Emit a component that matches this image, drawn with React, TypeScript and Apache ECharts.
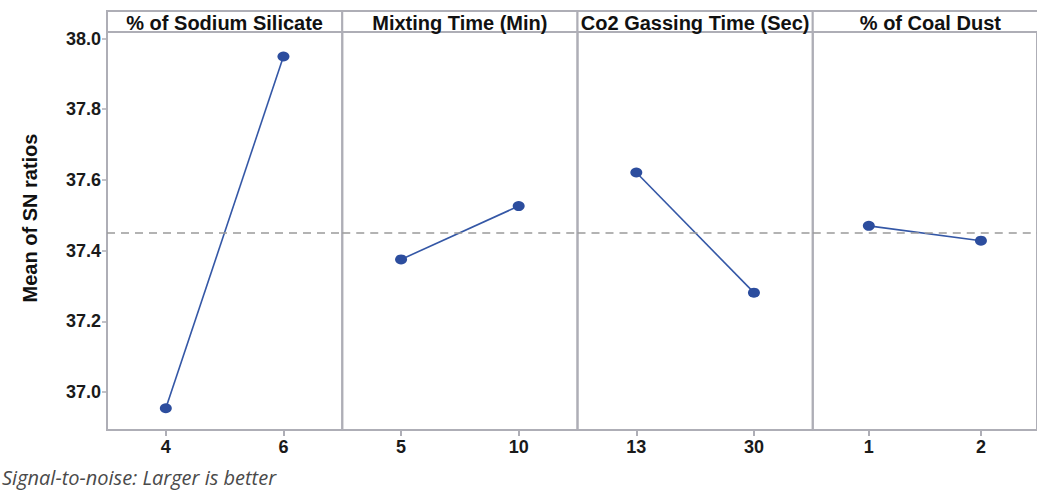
import React, { useEffect, useRef } from "react";
import * as echarts from "echarts";

const factors = ["% of Sodium Silicate", "Mixting Time (Min)", "Co2 Gassing Time (Sec)", "% of Coal Dust"];
const levelLabels = [["4", "6"], ["5", "10"], ["13", "30"], ["1", "2"]];
const snMeans = [[36.954, 37.949], [37.375, 37.526], [37.621, 37.281], [37.47, 37.428]];
const grandMean = 37.45;
const yTickValues = [37.0, 37.2, 37.4, 37.6, 37.8, 38.0];
const yAxisTitle = "Mean of SN ratios";
const footnote = "Signal-to-noise: Larger is better";

const W = 1037;
const H = 490;
const PLOT_LEFT = 107;
const PANEL_W = 235.25;
const HEADER_TOP = 11;
const PLOT_TOP = 32;
const PLOT_BOTTOM = 430;
const Y_MIN = 36.8925;
const Y_MAX = 38.0184;
const FRAME = "#aeaeb6";
const BLUE = "#3457a6";

export default function App() {
  const ref = useRef<HTMLDivElement>(null);
  useEffect(() => {
    if (!ref.current) return;
    const chart = echarts.init(ref.current, null, { renderer: "svg" });
    const grids = factors.map((_, i) => ({
      left: PLOT_LEFT + PANEL_W * i,
      top: PLOT_TOP,
      width: PANEL_W,
      height: PLOT_BOTTOM - PLOT_TOP,
      show: true,
      borderColor: FRAME,
      borderWidth: 2,
      backgroundColor: "transparent",
    }));
    const xAxes = factors.map((_, i) => ({
      type: "category",
      gridIndex: i,
      data: levelLabels[i],
      boundaryGap: true,
      axisLine: { show: true, lineStyle: { color: FRAME, width: 2 } },
      axisTick: { show: true, alignWithLabel: true, length: 6, lineStyle: { color: FRAME, width: 2 } },
      axisLabel: {
        margin: 8,
        color: "#1a1a1a",
        fontFamily: "Liberation Sans, Arial, sans-serif",
        fontWeight: "bold",
        fontSize: 18,
      },
      splitLine: { show: false },
    }));
    const yAxes = factors.map((_, i) => ({
      type: "value",
      gridIndex: i,
      min: Y_MIN,
      max: Y_MAX,
      show: i === 0,
      axisLine: { show: true, lineStyle: { color: FRAME, width: 2 } },
      axisTick: { show: true, length: 5, customValues: yTickValues, lineStyle: { color: FRAME, width: 1.5 } },
      axisLabel: {
        customValues: yTickValues,
        margin: 6,
        color: "#1a1a1a",
        fontFamily: "Liberation Sans, Arial, sans-serif",
        fontWeight: "bold",
        fontSize: 18,
        formatter: (v: number) => v.toFixed(1),
      },
      splitLine: { show: false },
    }));
    const series = factors.map((name, i) => ({
      type: "line",
      name,
      xAxisIndex: i,
      yAxisIndex: i,
      data: snMeans[i],
      symbol: "circle",
      symbolSize: [12, 10],
      lineStyle: { color: BLUE, width: 1.6 },
      itemStyle: { color: "#2c4d9e" },
      markLine: {
        silent: true,
        symbol: "none",
        label: { show: false },
        lineStyle: { color: "#9a9a9a", type: [8, 6], width: 1.5 },
        data: [{ yAxis: grandMean }],
      },
      z: 3,
    }));
    const headerGraphics: any[] = [];
    factors.forEach((name, i) => {
      const x = PLOT_LEFT + PANEL_W * i;
      headerGraphics.push({
        type: "rect",
        shape: { x, y: HEADER_TOP, width: PANEL_W, height: PLOT_TOP - HEADER_TOP },
        style: { fill: "#fff", stroke: FRAME, lineWidth: 2 },
        z: 1,
      });
      headerGraphics.push({
        type: "text",
        x: x + PANEL_W / 2,
        y: (HEADER_TOP + PLOT_TOP) / 2 + 1,
        style: {
          text: name,
          textAlign: "center",
          textVerticalAlign: "middle",
          fill: "#111",
          font: "bold 20px 'Liberation Sans', Arial, sans-serif",
        },
        z: 2,
      });
    });
    headerGraphics.push({
      type: "text",
      x: 30,
      y: 218,
      rotation: Math.PI / 2,
      style: {
        text: yAxisTitle,
        textAlign: "center",
        textVerticalAlign: "middle",
        fill: "#111",
        font: "bold 20px 'Liberation Sans', Arial, sans-serif",
      },
    });
    headerGraphics.push({
      type: "text",
      x: 2,
      y: 477,
      style: {
        text: footnote,
        textAlign: "left",
        textVerticalAlign: "middle",
        fill: "#4a4a4a",
        font: "italic 20px 'Open Sans', sans-serif",
      },
    });
    chart.setOption({
      animation: false,
      backgroundColor: "#fff",
      grid: grids,
      xAxis: xAxes,
      yAxis: yAxes,
      series,
      graphic: headerGraphics,
    } as any);
    return () => chart.dispose();
  }, []);
  return (
    <div
      ref={ref}
      style={{ position: "absolute", left: 0, top: 0, width: W, height: H }}
    />
  );
}
